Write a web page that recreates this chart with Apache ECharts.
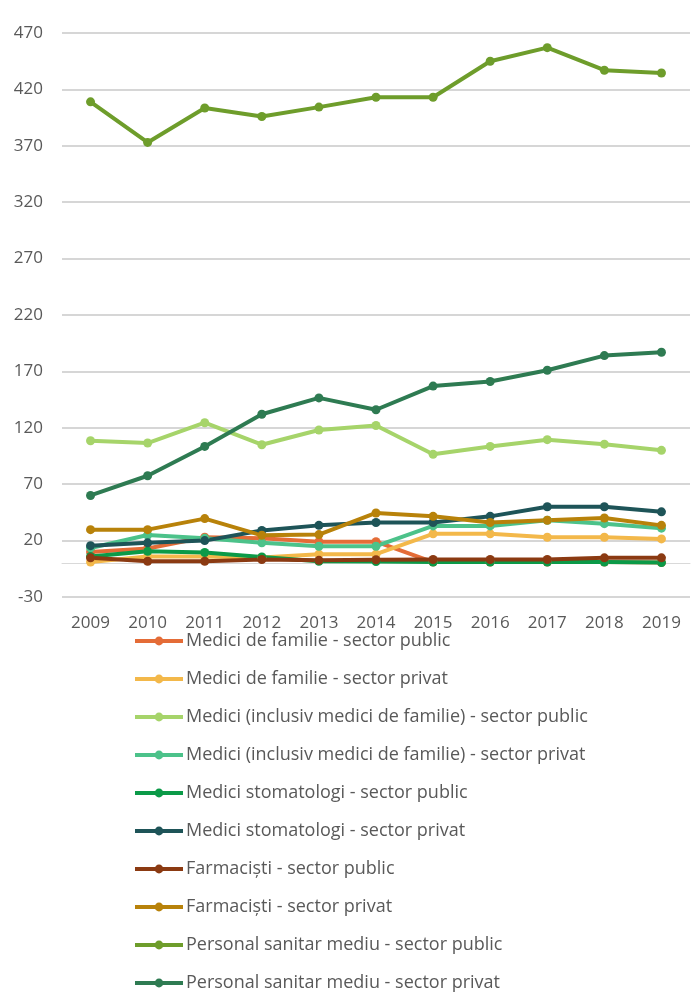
<!DOCTYPE html>
<html><head><meta charset="utf-8">
<script src="https://cdn.jsdelivr.net/npm/echarts@6/dist/echarts.min.js"></script>
<style>html,body{margin:0;padding:0;background:#fff}#c{width:699px;height:995px}</style>
</head><body><div id="c"></div>
<script>
const years = ['2009','2010','2011','2012','2013','2014','2015','2016','2017','2018','2019'];
const yTicks = [-30, 20, 70, 120, 170, 220, 270, 320, 370, 420, 470];

const medFamPublic   = [10, 13, 23, 22, 19, 19, 1, 1, 1, 1, 0.5];
const medFamPrivat   = [1, 6, 6, 5, 8, 8, 26, 26, 23, 23, 21.5];
const mediciPublic   = [108.5, 106.5, 124.5, 105, 118, 122, 96.5, 103.5, 109.5, 105.5, 100];
const mediciPrivat   = [13.5, 25, 22, 18, 15, 15, 33, 33, 38, 35, 31];
const stomPublic     = [6, 10.5, 9.5, 5.5, 1.7, 1.5, 1, 1, 1, 1, 0.5];
const stomPrivat     = [15.5, 18, 20, 29, 33.5, 36, 36, 41.5, 50, 50, 45.5];
const farmPublic     = [4.7, 1.7, 1.7, 3.2, 2.5, 3, 3.2, 3.2, 3.2, 4.7, 4.7];
const farmPrivat     = [29.7, 29.7, 39.5, 24.7, 25.3, 44.5, 41.5, 36, 38, 40, 33.5];
const psmPublic      = [409, 373, 403.5, 396, 404.3, 413, 413, 445, 457, 437, 434.5];
const psmPrivat      = [60, 77.5, 103.5, 132, 146.5, 136, 157, 161, 171, 184, 187];

const seriesNames = [
  'Medici de familie - sector public',
  'Medici de familie - sector privat',
  'Medici (inclusiv medici de familie) - sector public',
  'Medici (inclusiv medici de familie) - sector privat',
  'Medici stomatologi - sector public',
  'Medici stomatologi - sector privat',
  'Farmaciști - sector public',
  'Farmaciști - sector privat',
  'Personal sanitar mediu - sector public',
  'Personal sanitar mediu - sector privat'
];
const seriesData = [medFamPublic, medFamPrivat, mediciPublic, mediciPrivat, stomPublic, stomPrivat, farmPublic, farmPrivat, psmPublic, psmPrivat];
const colors = ['#E46C37','#F3B84A','#A6D46A','#4CC28A','#0B9A48','#1E5458','#8B3A12','#B8820A','#6E9D2B','#2E7B52'];

const font = '"Open Sans", sans-serif';
const chart = echarts.init(document.getElementById('c'), null, {renderer:'canvas'});
chart.setOption({
  animation: false,
  color: colors,
  grid: {left: 62, right: 9, top: 33, height: 564},
  xAxis: {
    type: 'category', data: years, boundaryGap: true,
    axisLine: {onZero: true, lineStyle: {color: '#d9d9d9', width: 1}},
    axisTick: {show: false},
    axisLabel: {color: '#595959', fontSize: 17, fontFamily: font, margin: 18}
  },
  yAxis: {
    type: 'value', min: yTicks[0], max: yTicks[yTicks.length-1], interval: 50,
    axisLine: {show: false}, axisTick: {show: false},
    axisLabel: {color: '#595959', fontSize: 17, fontFamily: font, margin: 19},
    splitLine: {lineStyle: {color: '#c8c8c8', width: 1.5}}
  },
  legend: {
    orient: 'vertical', left: 133, top: 632, height: 400, padding: 0,
    itemWidth: 48, itemHeight: 11, itemGap: 20,
    lineStyle: {width: 4},
    textStyle: {color: '#595959', fontSize: 18, fontFamily: font, lineHeight: 18, padding: [0,0,0,-2]},
    data: seriesNames
  },
  series: seriesNames.map((n, i) => ({
    name: n, type: 'line', data: seriesData[i],
    symbol: 'circle', symbolSize: 9, showSymbol: true,
    lineStyle: {width: 4, color: colors[i]},
    itemStyle: {color: colors[i]}
  }))
});
</script></body></html>
